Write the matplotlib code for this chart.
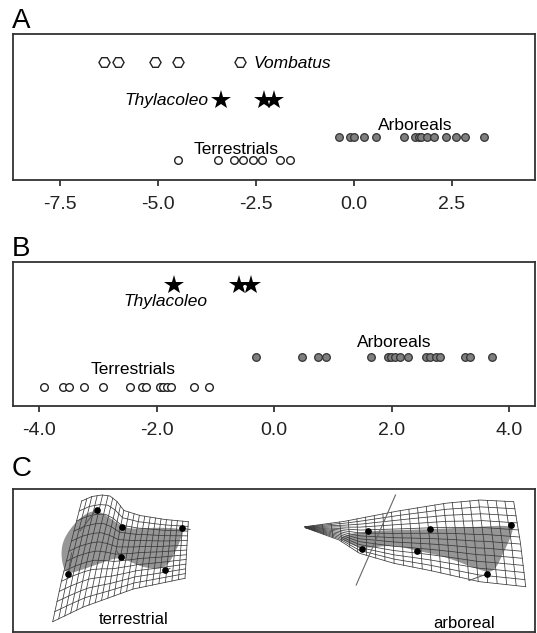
"""Discriminant scores of forelimb shape with deformation grids (A, B, C)."""

import matplotlib
matplotlib.use("Agg")
import matplotlib.pyplot as plt
import numpy as np
from matplotlib.patches import Polygon

plt.rcParams.update({
    "font.family": ["Liberation Sans", "DejaVu Sans"],
    "axes.unicode_minus": False,
    "axes.edgecolor": "#333333",
    "axes.linewidth": 1.3,
})

# ---------------------------------------------------------------------------
# Panel A: discriminant function scores
# ---------------------------------------------------------------------------
A_VOMBATUS = [-6.37, -6.02, -5.07, -4.49, -2.90]
A_THYLACOLEO = [-3.40, -2.28, -2.03]
A_ARBOREAL = [-0.37, -0.09, 0.01, 0.26, 0.56, 1.28, 1.56, 1.67, 1.73, 1.87,
              2.05, 2.37, 2.60, 2.84, 3.33]
A_TERRESTRIAL = [-4.49, -3.47, -3.06, -2.82, -2.58, -2.33, -1.89, -1.63]
A_TICKS = [-7.5, -5.0, -2.5, 0.0, 2.5]

# ---------------------------------------------------------------------------
# Panel B
# ---------------------------------------------------------------------------
B_THYLACOLEO = [-1.70, -0.60, -0.39]
B_ARBOREAL = [-0.31, 0.47, 0.74, 0.88, 1.64, 1.94, 1.99, 2.05, 2.14, 2.28,
              2.59, 2.65, 2.75, 2.83, 3.24, 3.33, 3.71]
B_TERRESTRIAL = [-3.93, -3.59, -3.50, -3.24, -2.92, -2.46, -2.26, -2.19,
                 -1.95, -1.89, -1.83, -1.76, -1.36, -1.11]
B_TICKS = [-4.0, -2.0, 0.0, 2.0, 4.0]

# ---------------------------------------------------------------------------
# Panel C: landmark configurations and warped grid outlines (image units)
# grid edges run left->right (bottom, top) and bottom->top (left, right)
# ---------------------------------------------------------------------------
TERR_LANDMARKS = [(96.7, 509.5), (122.3, 526.7), (181.7, 528.3),
                  (165.0, 570.3), (120.7, 557.3), (68.3, 573.5)]
TERR_VECTOR_ENDS = [(80.0, 531.0), (119.0, 530.0), (190.0, 529.5),
                    (170.0, 568.5), (116.5, 550.5), (71.5, 553.0)]
TERR_TOP = [(81.7, 501.0), (92.0, 496.5), (102.0, 495.0), (110.0, 496.0),
            (117.0, 501.5), (124.0, 510.5), (140.0, 515.5), (165.0, 519.5),
            (188.3, 521.7)]
TERR_RIGHT = [(185.0, 578.3), (186.7, 550.0), (188.3, 521.7)]
TERR_BOTTOM = [(52.7, 621.7), (83.3, 607.0), (133.3, 589.0), (185.0, 578.3)]
TERR_LEFT = [(52.7, 621.7), (61.7, 580.0), (71.7, 540.0), (81.7, 501.0)]
TERR_SHADE = [(96.7, 509.5), (113.0, 520.0), (122.3, 526.7), (133.0, 529.0),
              (157.0, 527.5), (181.7, 528.5), (183.0, 533.0), (176.5, 550.0),
              (166.0, 568.5), (146.7, 568.3), (133.3, 563.3), (120.0, 556.7),
              (100.0, 563.3), (76.7, 571.7), (68.3, 573.3), (63.3, 568.3),
              (61.0, 553.3), (63.3, 540.0), (71.7, 526.7), (83.3, 515.0)]

ARB_LANDMARKS = [(367.5, 530.7), (362.0, 548.7), (429.8, 529.3),
                 (416.8, 550.7), (511.0, 525.3), (487.0, 574.0)]
ARB_VECTOR_ENDS = [(367.5, 530.7), (362.0, 548.7), (429.8, 529.3),
                   (416.8, 550.7), (511.0, 525.3), (469.0, 580.5)]
ARB_TOP = [(304.8, 526.7), (342.5, 521.7), (393.8, 511.7), (445.2, 503.3),
           (479.5, 500.0), (513.7, 501.7)]
ARB_RIGHT = [(525.7, 586.7), (520.5, 543.3), (513.7, 501.7)]
ARB_BOTTOM = [(306.0, 528.0), (339.0, 540.0), (359.6, 553.3), (393.8, 563.3),
              (428.0, 570.0), (479.5, 581.7), (525.7, 586.7)]
ARB_LEFT = [(306.0, 528.0), (304.8, 526.7)]
ARB_SHADE = [(337.3, 536.7), (367.5, 530.7), (429.8, 529.3), (479.5, 526.7),
             (511.0, 525.3), (513.7, 530.0), (503.4, 553.3), (493.2, 573.3),
             (479.5, 570.0), (445.2, 556.7), (416.8, 550.7), (393.8, 545.0),
             (362.0, 548.7), (348.0, 543.0)]
ARB_AXIS_LINE = [(395.5, 495.0), (356.2, 585.0)]

GREY_FILL = "#969696"
DOT_GREY = "#7f7f7f"
GRID_COLOR = "#3a3a3a"

FIG_W, FIG_H = 537, 633


def axes_rect(left, top, right, bottom):
    return [left / FIG_W, 1 - bottom / FIG_H, (right - left) / FIG_W, (bottom - top) / FIG_H]


def style_strip_axes(ax, ticks, xlim):
    ax.set_xlim(*xlim)
    ax.set_ylim(0, 1)
    ax.set_yticks([])
    ax.set_xticks(ticks)
    ax.set_xticklabels([f"{t:.1f}" for t in ticks])
    ax.tick_params(axis="x", direction="out", length=4.5, width=1.2,
                   labelsize=14, pad=7, colors="#222222")


def hollow(ax, xs, y, marker="o", size=5.5):
    ax.plot(xs, [y] * len(xs), linestyle="none", marker=marker, markersize=size,
            markerfacecolor="white", markeredgecolor="#222222", markeredgewidth=1.0)


def filled(ax, xs, y, size=5.5):
    ax.plot(xs, [y] * len(xs), linestyle="none", marker="o", markersize=size,
            markerfacecolor=DOT_GREY, markeredgecolor="#333333", markeredgewidth=0.9)


def stars(ax, xs, y):
    ax.plot(xs, [y] * len(xs), linestyle="none", marker="*", markersize=15,
            color="black", markeredgewidth=0)


def resample(pts, n):
    pts = np.asarray(pts, float)
    seg = np.hypot(*np.diff(pts, axis=0).T)
    s = np.concatenate([[0], np.cumsum(seg)]) / seg.sum()
    t = np.linspace(0, 1, n)
    return np.column_stack([np.interp(t, s, pts[:, 0]), np.interp(t, s, pts[:, 1])])


def coons_grid(ax, bottom, top, left, right, ncols, nrows, sub=6):
    nu, nv = ncols * sub + 1, nrows * sub + 1
    B, T = resample(bottom, nu), resample(top, nu)
    L, R = resample(left, nv), resample(right, nv)
    U, V = np.meshgrid(np.linspace(0, 1, nu), np.linspace(0, 1, nv))
    U, V = U[..., None], V[..., None]
    P = ((1 - V) * B[None] + V * T[None] + (1 - U) * L[:, None] + U * R[:, None]
         - (1 - U) * (1 - V) * B[0] - U * (1 - V) * B[-1]
         - (1 - U) * V * T[0] - U * V * T[-1])
    for i in range(0, nv, sub):
        ax.plot(P[i, :, 0], P[i, :, 1], color=GRID_COLOR, linewidth=0.55, zorder=3)
    for j in range(0, nu, sub):
        ax.plot(P[:, j, 0], P[:, j, 1], color=GRID_COLOR, linewidth=0.55, zorder=3)


def chaikin(pts, n_iter=3):
    pts = np.asarray(pts, float)
    for _ in range(n_iter):
        nxt = np.roll(pts, -1, axis=0)
        q = 0.75 * pts + 0.25 * nxt
        r = 0.25 * pts + 0.75 * nxt
        pts = np.empty((2 * len(q), 2))
        pts[0::2], pts[1::2] = q, r
    return pts


def draw_shape(ax, shade, landmarks, vector_ends):
    ax.add_patch(Polygon(chaikin(shade), closed=True, facecolor=GREY_FILL,
                         edgecolor="none", zorder=2))
    for (x0, y0), (x1, y1) in zip(landmarks, vector_ends):
        ax.plot([x0, x1], [y0, y1], color="#555555", linewidth=0.7, zorder=4)
    lm = np.asarray(landmarks)
    ax.plot(lm[:, 0], lm[:, 1], linestyle="none", marker="o", markersize=3.8,
            color="black", zorder=5)


fig = plt.figure(figsize=(FIG_W / 100, FIG_H / 100), dpi=100)

# ---- A ----
ax_a = fig.add_axes(axes_rect(13, 34, 535, 180))
style_strip_axes(ax_a, A_TICKS, (-8.70, 4.63))
hollow(ax_a, A_VOMBATUS, 0.808, marker="H", size=8)
stars(ax_a, A_THYLACOLEO, 0.548)
filled(ax_a, A_ARBOREAL, 0.295)
hollow(ax_a, A_TERRESTRIAL, 0.137)
ax_a.text(-2.57, 0.765, "Vombatus", style="italic", fontsize=12.5, ha="left", va="baseline")
ax_a.text(-3.72, 0.515, "Thylacoleo", style="italic", fontsize=12.5, ha="right", va="baseline")
ax_a.text(1.56, 0.345, "Arboreals", fontsize=12.5, ha="center", va="baseline")
ax_a.text(-3.0, 0.180, "Terrestrials", fontsize=12.5, ha="center", va="baseline")

# ---- B ----
ax_b = fig.add_axes(axes_rect(13, 262, 535, 406))
style_strip_axes(ax_b, B_TICKS, (-4.45, 4.44))
stars(ax_b, B_THYLACOLEO, 0.840)
filled(ax_b, B_ARBOREAL, 0.340)
hollow(ax_b, B_TERRESTRIAL, 0.132)
ax_b.text(-1.86, 0.695, "Thylacoleo", style="italic", fontsize=12.5, ha="center", va="baseline")
ax_b.text(2.05, 0.412, "Arboreals", fontsize=12.5, ha="center", va="baseline")
ax_b.text(-2.40, 0.225, "Terrestrials", fontsize=12.5, ha="center", va="baseline")

# ---- C ----
ax_c = fig.add_axes(axes_rect(13, 489, 535, 632))
ax_c.set_xlim(13, 535)
ax_c.set_ylim(632, 489)
ax_c.set_xticks([])
ax_c.set_yticks([])
coons_grid(ax_c, TERR_BOTTOM, TERR_TOP, TERR_LEFT, TERR_RIGHT, 21, 12)
draw_shape(ax_c, TERR_SHADE, TERR_LANDMARKS, TERR_VECTOR_ENDS)
coons_grid(ax_c, ARB_BOTTOM, ARB_TOP, ARB_LEFT, ARB_RIGHT, 24, 12)
draw_shape(ax_c, ARB_SHADE, ARB_LANDMARKS, ARB_VECTOR_ENDS)
line = np.asarray(ARB_AXIS_LINE)
ax_c.plot(line[:, 0], line[:, 1], color="#666666", linewidth=0.8, zorder=4)
ax_c.text(134, 624, "terrestrial", fontsize=12, ha="center", va="baseline")
ax_c.text(464, 628, "arboreal", fontsize=12, ha="center", va="baseline")

# panel letters
for label, base in (("A", 28.5), ("B", 255.5), ("C", 476.5)):
    fig.text(12 / FIG_W, 1 - base / FIG_H, label, fontsize=20, ha="left", va="baseline")

fig.savefig("out.png", dpi=100)
